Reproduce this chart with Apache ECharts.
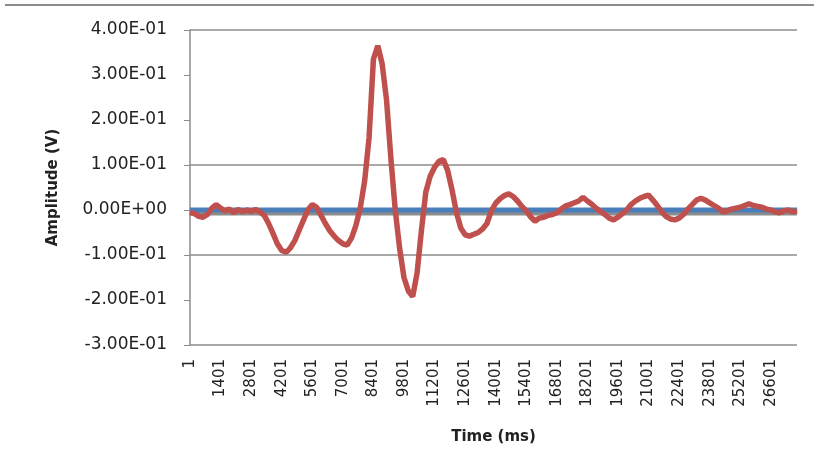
<!DOCTYPE html>
<html>
<head>
<meta charset="utf-8">
<script src="https://cdn.jsdelivr.net/npm/echarts@6/dist/echarts.min.js"></script>
<style>
  html, body { margin: 0; padding: 0; background: #fff; }
  #main { width: 814px; height: 475px; }
</style>
</head>
<body>
<div id="main"></div>
<script>
// sample times (ms), one point every 200 ms
var categories = [];
for (var t = 1; t <= 27801; t += 200) categories.push(String(t));

// amplitude (V)
var amplitude = [
  -0.005, -0.008, -0.014, -0.016, -0.010,  0.004,  0.012,  0.004, -0.002,  0.002,
  -0.006,  0.001, -0.004,  0.000, -0.003,  0.001, -0.004, -0.012, -0.030, -0.052,
  -0.075, -0.090, -0.094, -0.084, -0.068, -0.045, -0.022,  0.000,  0.012,  0.006,
  -0.012, -0.030, -0.046, -0.058, -0.068, -0.075, -0.078, -0.062, -0.034,  0.005,
   0.065,  0.160,  0.335,  0.365,  0.325,  0.245,  0.115,  0.000, -0.085, -0.150,
  -0.180, -0.192, -0.140, -0.045,  0.040,  0.075,  0.095,  0.108,  0.112,  0.088,
   0.045, -0.005, -0.040, -0.055, -0.058, -0.054, -0.050, -0.042, -0.030, -0.002,
   0.015,  0.025,  0.032,  0.036,  0.030,  0.020,  0.008, -0.002, -0.015, -0.025,
  -0.018, -0.016, -0.012, -0.010, -0.006,  0.002,  0.009,  0.012,  0.016,  0.020,
   0.028,  0.020,  0.013,  0.004, -0.003, -0.010, -0.018, -0.022, -0.016, -0.008,
   0.000,  0.012,  0.020,  0.026,  0.030,  0.033,  0.022,  0.010, -0.004, -0.014,
  -0.020, -0.022, -0.018, -0.010,  0.002,  0.012,  0.022,  0.026,  0.022,  0.016,
   0.010,  0.004, -0.004, -0.002,  0.002,  0.004,  0.006,  0.010,  0.014,  0.010,
   0.008,  0.006,  0.002,  0.000, -0.004, -0.006, -0.002,  0.000, -0.004, -0.002
];

// flat blue reference line at 0 V, first to last sample
var baseline = [
  [categories[0], 0],
  [categories[categories.length - 1], 0]
];

var yTicks = { min: -0.3, max: 0.4, step: 0.1 };

function sci(v) {
  if (Math.abs(v) < 1e-9) return '0.00E+00';
  var parts = v.toExponential(2).split('e');
  var e = parseInt(parts[1], 10);
  var es = (e < 0 ? '-' : '+') + (Math.abs(e) < 10 ? '0' : '') + Math.abs(e);
  return parts[0] + 'E' + es;
}

var myChart = echarts.init(document.getElementById('main'));
var grey = '#8c8c8c';

var option = {
  animation: false,
  backgroundColor: '#fff',
  textStyle: { fontFamily: 'DejaVu Sans' },
  graphic: [{
    type: 'line',
    shape: { x1: 5, y1: 5, x2: 814, y2: 5 },
    style: { stroke: grey, lineWidth: 2 }
  }],
  grid: { left: 190, right: 17, top: 30, bottom: 130 },
  xAxis: {
    type: 'category',
    data: categories,
    boundaryGap: false,
    name: 'Time (ms)',
    nameLocation: 'middle',
    nameGap: 85,
    nameTextStyle: { fontSize: 15, fontWeight: 'bold', color: '#222' },
    axisLine: { lineStyle: { color: grey, width: 1.5 } },
    axisTick: { show: false },
    axisLabel: { interval: 6, rotate: 90, margin: 14, fontSize: 15, color: '#222' },
    splitLine: { show: false }
  },
  yAxis: {
    type: 'value',
    min: yTicks.min,
    max: yTicks.max,
    interval: yTicks.step,
    name: 'Amplitude (V)',
    nameLocation: 'middle',
    nameGap: 129,
    nameTextStyle: { fontSize: 15, fontWeight: 'bold', color: '#222' },
    axisLine: { show: true, lineStyle: { color: grey, width: 1.5 } },
    axisTick: { show: true, length: 6, lineStyle: { color: grey } },
    axisLabel: { margin: 23, fontSize: 17, color: '#222', formatter: sci },
    splitLine: {
      show: true,
      lineStyle: {
        width: 1.5,
        color: [grey, 'rgba(0,0,0,0)', grey, grey, grey, 'rgba(0,0,0,0)', 'rgba(0,0,0,0)', grey]
      }
    }
  },
  series: [
    {
      name: 'Baseline',
      type: 'line',
      data: baseline,
      symbol: 'none',
      z: 2,
      lineStyle: { color: '#4a7ebb', width: 5, shadowColor: '#8c8c8c', shadowBlur: 0, shadowOffsetY: 3 }
    },
    {
      name: 'Amplitude',
      type: 'line',
      data: amplitude,
      symbol: 'none',
      z: 3,
      lineStyle: { color: '#c0504d', width: 5.5 }
    }
  ]
};
myChart.setOption(option);
</script>
</body>
</html>
